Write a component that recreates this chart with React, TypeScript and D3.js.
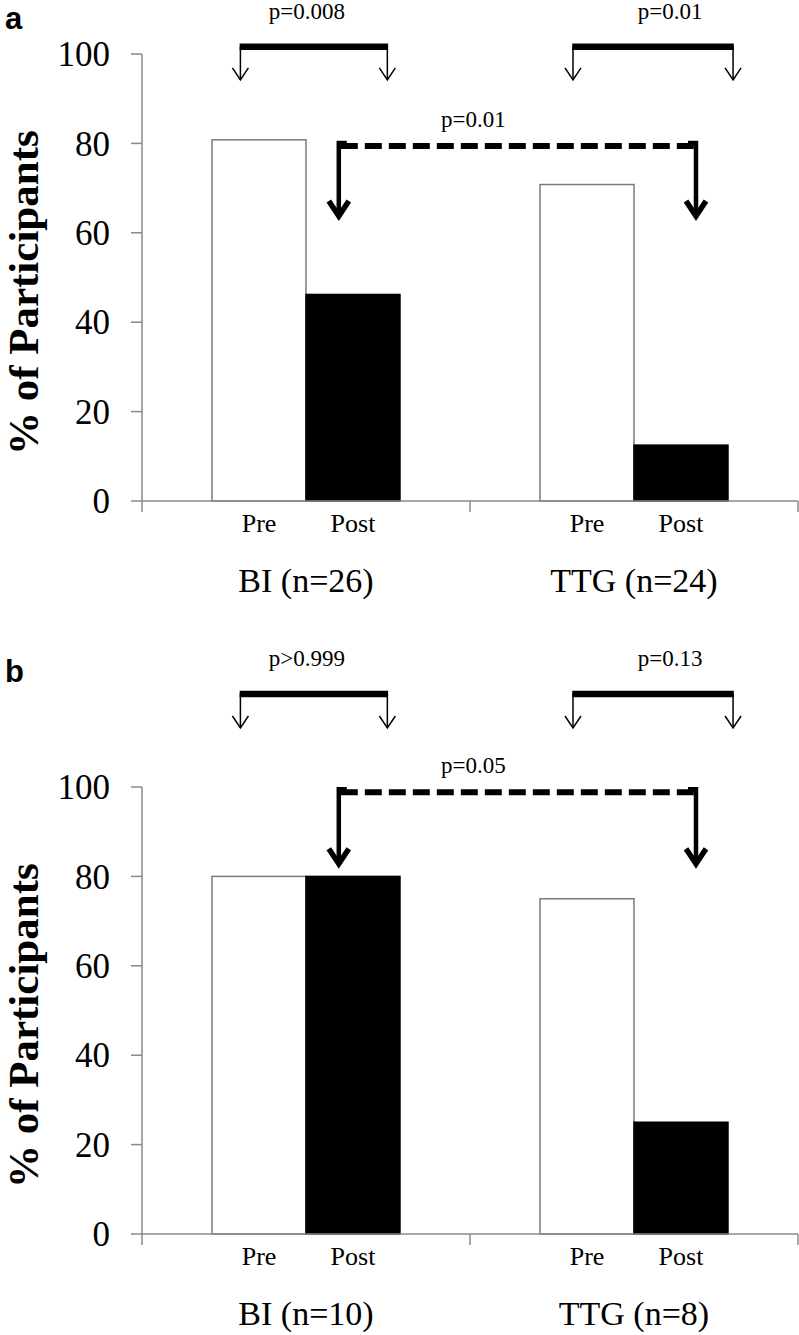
import React from "react";
import * as d3 from "d3";

const groups = ["BI", "TTG"];
const phases = ["Pre", "Post"];
const groupLabelsA = ["BI (n=26)", "TTG (n=24)"];
const groupLabelsB = ["BI (n=10)", "TTG (n=8)"];
const valuesA = [[80.8, 46.2], [70.8, 12.5]];
const valuesB = [[80, 80], [75, 25]];
const yTicks = [0, 20, 40, 60, 80, 100];
const withinP_A = ["p=0.008", "p=0.01"];
const withinP_B = ["p>0.999", "p=0.13"];
const betweenP_A = "p=0.01";
const betweenP_B = "p=0.05";

// annotation positions in value units (y) and band fractions (x)
const letterYA = 105.5, bracketYA = 101.6, bracketTipA = 94.2, dashYA = 79.4, dashTipA = 63.3;
const letterYB = 123.5, bracketYB = 120.8, bracketTipB = 113.2, dashYB = 98.8, dashTipB = 82.4;
const bracketFrac = [[0.3, 0.748], [0.314, 0.802]];
const dashFrac = [0.6, 0.689];

const W = 799, H = 1335;
const serif = "'Liberation Serif', 'Times New Roman', Times, serif";

function Panel({ letter, values, groupLabels, withinP, betweenP, y0, lY, bY, bTip, dY, dTip }: any) {
  const x = d3.scaleBand().domain(groups).range([142, 798]).padding(0);
  const inner = d3.scaleBand().domain(phases).range([0, x.bandwidth()]).paddingOuter(0.745).paddingInner(0);
  const y = d3.scaleLinear().domain([0, 100]).range([y0, y0 - 447]);
  const gx = (g: string, f: number) => (x(g) as number) + f * x.bandwidth();
  const axisColor = "#8a8a8a";
  const yAxisX = x.range()[0];
  return (
    <g>
      <text x={5} y={y(lY)} fontFamily="'Liberation Sans', Arial, sans-serif" fontWeight="bold" fontSize={31}>{letter}</text>
      {/* bars */}
      {groups.map((g, gi) =>
        phases.map((p, pi) => {
          const bx = (x(g) as number) + (inner(p) as number);
          const v = values[gi][pi];
          return (
            <rect key={g + p} x={bx} y={y(v)} width={inner.bandwidth()} height={y(0) - y(v)}
              fill={pi === 0 ? "#fff" : "#000"} stroke={pi === 0 ? "#7a7a7a" : "#000"} strokeWidth={1.5} />
          );
        })
      )}
      {/* y axis */}
      <line x1={yAxisX} x2={yAxisX} y1={y(100)} y2={y(0) + 11} stroke={axisColor} strokeWidth={1.5} />
      {yTicks.map((t) => (
        <g key={t}>
          <line x1={yAxisX - 11} x2={yAxisX} y1={y(t)} y2={y(t)} stroke={axisColor} strokeWidth={1.5} />
          <text x={yAxisX - 32} y={y(t)} dy="0.35em" textAnchor="end" fontFamily={serif} fontSize={35}>{t}</text>
        </g>
      ))}
      {/* x axis */}
      <line x1={yAxisX} x2={x.range()[1]} y1={y(0)} y2={y(0)} stroke={axisColor} strokeWidth={1.5} />
      {groups.map((g) => {
        const ex = (x(g) as number) + x.bandwidth();
        return <line key={g} x1={ex} x2={ex} y1={y(0)} y2={y(0) + 11} stroke={axisColor} strokeWidth={1.5} />;
      })}
      {groups.map((g, gi) => (
        <g key={g}>
          {phases.map((p) => (
            <text key={p} x={(x(g) as number) + (inner(p) as number) + inner.bandwidth() / 2} y={y(0) + 31}
              textAnchor="middle" fontFamily={serif} fontSize={26}>{p}</text>
          ))}
          <text x={(x(g) as number) + x.bandwidth() / 2} y={y(0) + 91} textAnchor="middle" fontFamily={serif} fontSize={34}>{groupLabels[gi]}</text>
        </g>
      ))}
      {/* y label */}
      <text transform={`translate(38,${y(46.6)}) rotate(-90)`} textAnchor="middle" fontFamily={serif} fontWeight="bold" fontSize={43}>% of Participants</text>
      {/* within-group brackets */}
      {groups.map((g, gi) => {
        const x0 = gx(g, bracketFrac[gi][0]);
        const x1 = gx(g, bracketFrac[gi][1]);
        const yb = y(bY), yt = y(bTip);
        return (
          <g key={g}>
            <text x={gi === 0 ? gx(g, 0.503) : gx(g, 0.61)} y={yb - 28} textAnchor="middle" fontFamily={serif} fontSize={23}>{withinP[gi]}</text>
            {[x0, x1].map((xx, k) => (
              <g key={k} fill="none" stroke="#000" strokeWidth={1.5}>
                <line x1={xx} x2={xx} y1={yb} y2={yt} />
                <polyline points={`${xx - 8},${yt - 12} ${xx},${yt} ${xx + 8},${yt - 12}`} />
              </g>
            ))}
            <line x1={x0 - 0.75} x2={x1 + 0.75} y1={yb} y2={yb} stroke="#000" strokeWidth={6.5} />
          </g>
        );
      })}
      {/* between-group dashed connector */}
      {(() => {
        const xa = gx("BI", dashFrac[0]);
        const xb = gx("TTG", dashFrac[1]);
        const yd = y(dY), yt = y(dTip);
        return (
          <g>
            <text x={gx("BI", 1.01)} y={yd - 19} textAnchor="middle" fontFamily={serif} fontSize={23}>{betweenP}</text>
            <line x1={xa + 2} x2={xb - 2} y1={yd} y2={yd} stroke="#000" strokeWidth={6} strokeDasharray="17 7" />
            {[xa, xb].map((xx, k) => (
              <g key={k} fill="none" stroke="#000">
                <path d={`M${xx},${yt - 3} L${xx},${yd - 3} L${xx + (k === 0 ? 8 : -8)},${yd - 3}`} strokeWidth={4.5} strokeLinejoin="miter" />
                <polyline points={`${xx - 10},${yt - 17} ${xx},${yt - 2} ${xx + 10},${yt - 17}`} strokeWidth={5.5} strokeLinejoin="miter" strokeMiterlimit={10} />
              </g>
            ))}
          </g>
        );
      })()}
    </g>
  );
}

export default function App() {
  return (
    <svg width={W} height={H} viewBox={`0 0 ${W} ${H}`} style={{ display: "block", position: "absolute", left: 0, top: 0, background: "#fff" }}>
      <rect width={W} height={H} fill="#fff" />
      <Panel letter="a" values={valuesA} groupLabels={groupLabelsA} withinP={withinP_A} betweenP={betweenP_A}
        y0={501} lY={letterYA} bY={bracketYA} bTip={bracketTipA} dY={dashYA} dTip={dashTipA} />
      <Panel letter="b" values={valuesB} groupLabels={groupLabelsB} withinP={withinP_B} betweenP={betweenP_B}
        y0={1234} lY={letterYB} bY={bracketYB} bTip={bracketTipB} dY={dashYB} dTip={dashTipB} />
    </svg>
  );
}
